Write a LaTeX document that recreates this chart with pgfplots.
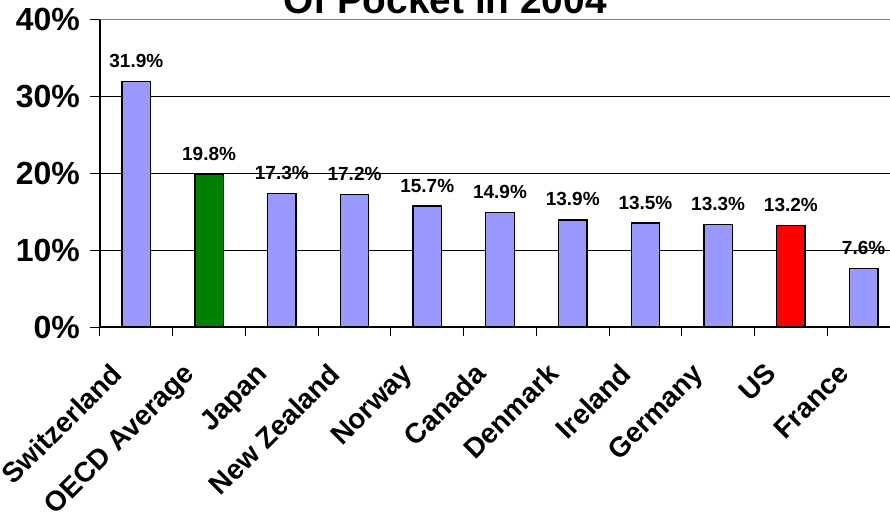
\documentclass[border=0pt]{standalone}
\usepackage{pgfplots}
\pgfplotsset{compat=1.18}
\usepackage{fontspec}
\setmainfont{Liberation Sans}
\definecolor{periw}{HTML}{9999FF}
\definecolor{oecd}{HTML}{008000}
\definecolor{usred}{HTML}{FF0000}
\begin{document}
\begin{tikzpicture}
\begin{axis}[
    scale only axis,
    width=400pt, height=154pt,
    xmin=-0.5, xmax=10.5,
    ymin=0, ymax=40,
    axis x line*=bottom,
    axis y line*=left,
    axis line style={line width=0.7pt, black},
    ybar, bar width=14.25pt, bar shift=0pt,
    xtick={0,...,10},
    xticklabels={Switzerland,OECD Average,Japan,New Zealand,Norway,Canada,Denmark,Ireland,Germany,US,France},
    minor xtick={-0.5,0.5,...,10.5},
    major x tick style={draw=none},
    minor tick length=4.5pt,
    major tick length=5pt,
    tick align=outside,
    tick style={black, line width=0.5pt},
    ytick={0,10,20,30,40},
    yticklabels={0\%,10\%,20\%,30\%,40\%},
    ymajorgrids,
    grid style={black, line width=0.5pt},
    xticklabel style={font=\fontsize{14}{16}\selectfont\bfseries, inner sep=0pt, xshift=-13.5pt, yshift=-12pt, rotate=45, anchor=north east},
    yticklabel style={font=\fontsize{16}{18}\selectfont\bfseries, xshift=-1.5pt},
    /pgf/number format/assume math mode=true,
    nodes near coords={\pgfmathprintnumber[fixed,precision=1,fixed zerofill]{\pgfplotspointmeta}\%},
    nodes near coords style={font=\fontsize{9.5}{11}\selectfont\bfseries, anchor=base, yshift=7pt},
]
\addplot[draw=black, line width=0.7pt, fill=periw] coordinates {
    (0,31.9) (2,17.3) (3,17.2) (4,15.7) (5,14.9) (6,13.9) (7,13.5) (8,13.3) (10,7.6)
};
\addplot[draw=black, line width=0.7pt, fill=oecd] coordinates {(1,19.8)};
\addplot[draw=black, line width=0.7pt, fill=usred] coordinates {(9,13.2)};
\draw[gray, line width=1pt] (axis cs:-0.5,40) -- (axis cs:10.5,40);
\end{axis}
\node[font=\fontsize{19.4}{22}\selectfont\bfseries, anchor=base] at (172.5pt,157pt) {Of Pocket in 2004};
\pgfresetboundingbox
\path[use as bounding box] (-50pt,-97pt) rectangle (395pt,163.5pt);
\end{tikzpicture}
\end{document}
